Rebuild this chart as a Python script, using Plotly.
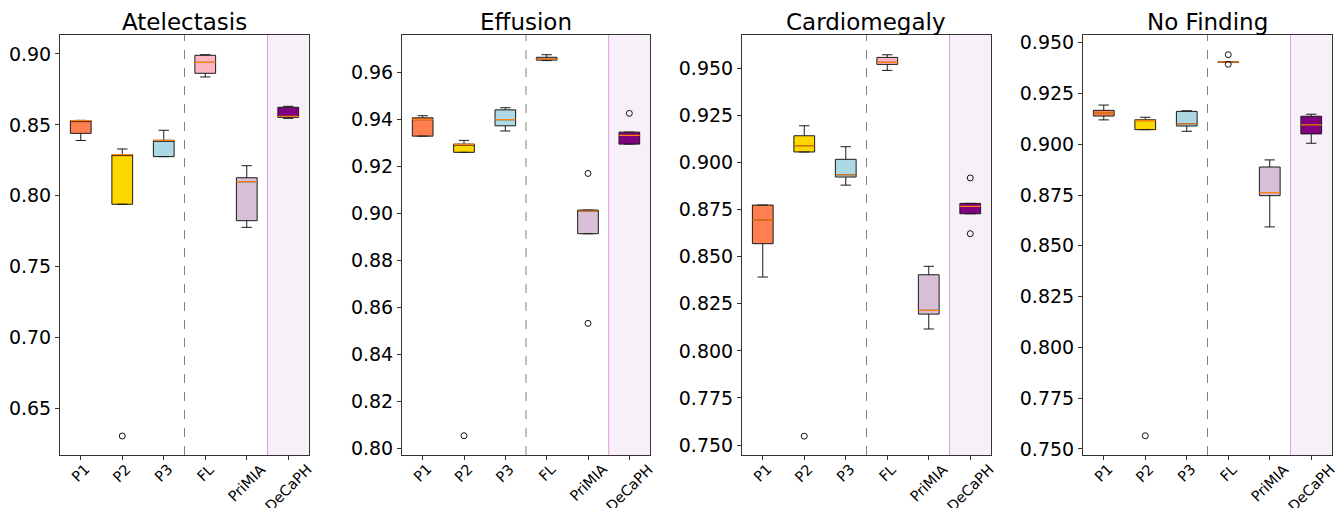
import plotly.graph_objects as go

methods = ["P1", "P2", "P3", "FL", "PriMIA", "DeCaPH"]
colors = ["#FF7F50", "#FFD700", "#ADD8E6", "#FFB6C1", "#D8BFD8", "#800080"]
titles = ["Atelectasis", "Effusion", "Cardiomegaly", "No Finding"]

# per subplot: lowerfence, q1, median, q3, upperfence for each method
atel_lf  = [0.839, 0.794, 0.8276, 0.8838, 0.7777, 0.8546]
atel_q1  = [0.844, 0.794, 0.8276, 0.8864, 0.7824, 0.8553]
atel_med = [0.853, 0.829, 0.8391, 0.8941, 0.8099, 0.8560]
atel_q3  = [0.853, 0.829, 0.8391, 0.8991, 0.8127, 0.8624]
atel_uf  = [0.8532, 0.833, 0.8462, 0.8995, 0.8212, 0.8631]
atel_out = {1: [0.6305]}

eff_lf  = [0.9330, 0.9261, 0.9352, 0.9652, 0.8914, 0.9296]
eff_q1  = [0.9330, 0.9261, 0.9374, 0.9654, 0.8914, 0.9296]
eff_med = [0.9400, 0.9295, 0.9400, 0.9658, 0.9011, 0.9333]
eff_q3  = [0.9408, 0.9296, 0.9442, 0.9666, 0.9015, 0.9347]
eff_uf  = [0.9417, 0.9312, 0.9451, 0.9677, 0.9015, 0.9347]
eff_out = {1: [0.8053], 4: [0.9171, 0.8532], 5: [0.9427]}

card_lf  = [0.8392, 0.9056, 0.8880, 0.9489, 0.8116, 0.8728]
card_q1  = [0.8569, 0.9056, 0.8923, 0.9521, 0.8195, 0.8728]
card_med = [0.8694, 0.9089, 0.8935, 0.9532, 0.8215, 0.8767]
card_q3  = [0.8774, 0.9142, 0.9017, 0.9558, 0.8404, 0.8783]
card_uf  = [0.8774, 0.9195, 0.9084, 0.9572, 0.8449, 0.8783]
card_out = {1: [0.7547], 5: [0.8918, 0.8622]}

nf_lf  = [0.9120, 0.9072, 0.9064, 0.9403, 0.8593, 0.9005]
nf_q1  = [0.9139, 0.9072, 0.9090, 0.9403, 0.8747, 0.9051]
nf_med = [0.9153, 0.9118, 0.9101, 0.9404, 0.8762, 0.9095]
nf_q3  = [0.9167, 0.9121, 0.9162, 0.9405, 0.8888, 0.9138]
nf_uf  = [0.9193, 0.9133, 0.9165, 0.9405, 0.8923, 0.9148]
nf_out = {1: [0.7565], 3: [0.9441, 0.9394]}

y_ranges = [[0.6171, 0.9134], [0.7971, 0.9761], [0.7447, 0.9677], [0.747, 0.9538]]
y_ticks = [
    [0.65, 0.70, 0.75, 0.80, 0.85, 0.90],
    [0.80, 0.82, 0.84, 0.86, 0.88, 0.90, 0.92, 0.94, 0.96],
    [0.750, 0.775, 0.800, 0.825, 0.850, 0.875, 0.900, 0.925, 0.950],
    [0.750, 0.775, 0.800, 0.825, 0.850, 0.875, 0.900, 0.925, 0.950],
]
y_fmt = [".2f", ".2f", ".3f", ".3f"]

panels = [
    (atel_lf, atel_q1, atel_med, atel_q3, atel_uf, atel_out),
    (eff_lf, eff_q1, eff_med, eff_q3, eff_uf, eff_out),
    (card_lf, card_q1, card_med, card_q3, card_uf, card_out),
    (nf_lf, nf_q1, nf_med, nf_q3, nf_uf, nf_out),
]

W, H = 1341, 508
x_px = [(60, 309), (402, 650), (742, 991), (1083, 1332)]
top_px, bot_px = 35, 455

fig = go.Figure()
layout = dict(
    width=W, height=H, margin=dict(l=0, r=0, t=0, b=0, autoexpand=False),
    paper_bgcolor="white", plot_bgcolor="rgba(0,0,0,0)",
    showlegend=False, font=dict(family="DejaVu Sans", color="black"),
)
shapes = []
annotations = []
pos = list(range(len(methods)))

for k, (lf, q1, med, q3, uf, outs) in enumerate(panels):
    ax = "" if k == 0 else str(k + 1)
    xa, ya = "x" + ax, "y" + ax
    for i in pos:
        fig.add_trace(go.Box(
            x=[i], lowerfence=[lf[i]], q1=[q1[i]], median=[med[i]], q3=[q3[i]],
            upperfence=[uf[i]], fillcolor=colors[i],
            line=dict(color="#1a1a1a", width=1), width=0.5, whiskerwidth=0.5,
            boxpoints=False, xaxis=xa, yaxis=ya, hoverinfo="skip",
        ))
    # median lines (orange), one degenerate box per method
    for i in pos:
        fig.add_trace(go.Box(
            x=[i], lowerfence=[med[i]], q1=[med[i]], median=[med[i]], q3=[med[i]],
            upperfence=[med[i]], fillcolor="rgba(0,0,0,0)",
            line=dict(color="#ff7f0e", width=1.2), width=0.5, whiskerwidth=0,
            boxpoints=False, xaxis=xa, yaxis=ya, hoverinfo="skip",
        ))
    ox, oy = [], []
    for i, vals in outs.items():
        for v in vals:
            ox.append(i)
            oy.append(v)
    fig.add_trace(go.Scatter(
        x=ox, y=oy, mode="markers", xaxis=xa, yaxis=ya,
        marker=dict(symbol="circle-open", size=6, color="#111111", line=dict(width=1)),
        hoverinfo="skip",
    ))
    x0, x1 = x_px[k]
    layout["xaxis" + ax] = dict(
        domain=[x0 / W, x1 / W], anchor=ya, range=[-0.5, 5.5], automargin=False,
        tickmode="array", tickvals=pos, showticklabels=False,
        showgrid=False, zeroline=False,
        showline=True, linecolor="#333333", linewidth=1, mirror=True,
        ticks="outside", ticklen=4, tickcolor="#333333",
    )
    layout["yaxis" + ax] = dict(
        domain=[1 - bot_px / H, 1 - top_px / H], anchor=xa, range=y_ranges[k],
        automargin=False,
        tickmode="array", tickvals=y_ticks[k],
        ticktext=[format(v, y_fmt[k]) for v in y_ticks[k]],
        tickfont=dict(size=19), showgrid=False, zeroline=False,
        showline=True, linecolor="#333333", linewidth=1, mirror=True,
        ticks="outside", ticklen=4, tickcolor="#333333",
    )
    # rotated category labels, centred under each tick (matplotlib style)
    for i, name in zip(pos, methods):
        annotations.append(dict(text=name, xref=xa, yref=ya + " domain", x=i, y=0,
                                xanchor="center", yanchor="top", yshift=-5, textangle=-45,
                                showarrow=False, borderpad=0, font=dict(size=14.5)))
    shapes.append(dict(type="rect", xref=xa, yref=ya + " domain", x0=4.5, x1=5.5,
                       y0=0, y1=1, fillcolor="#f8f0f8", line=dict(width=0), layer="below"))
    shapes.append(dict(type="line", xref=xa, yref=ya + " domain", x0=4.5, x1=4.5,
                       y0=0, y1=1, line=dict(color="#dda0dd", width=1), layer="below"))
    shapes.append(dict(type="line", xref=xa, yref=ya + " domain", x0=2.5, x1=2.5,
                       y0=0, y1=1, line=dict(color="#808080", width=1, dash="dash"), layer="below"))
    annotations.append(dict(text=titles[k], xref="paper", yref="paper",
                            x=(x0 + x1) / 2 / W, y=1 - 22 / H, xanchor="center", yanchor="middle",
                            showarrow=False, font=dict(size=23)))

layout["shapes"] = shapes
layout["annotations"] = annotations
fig.update_layout(**layout)
fig.write_html(
    "out.html",
    config={"displayModeBar": False},
    post_script="document.body.style.margin='0';document.body.style.overflow='hidden';",
)
